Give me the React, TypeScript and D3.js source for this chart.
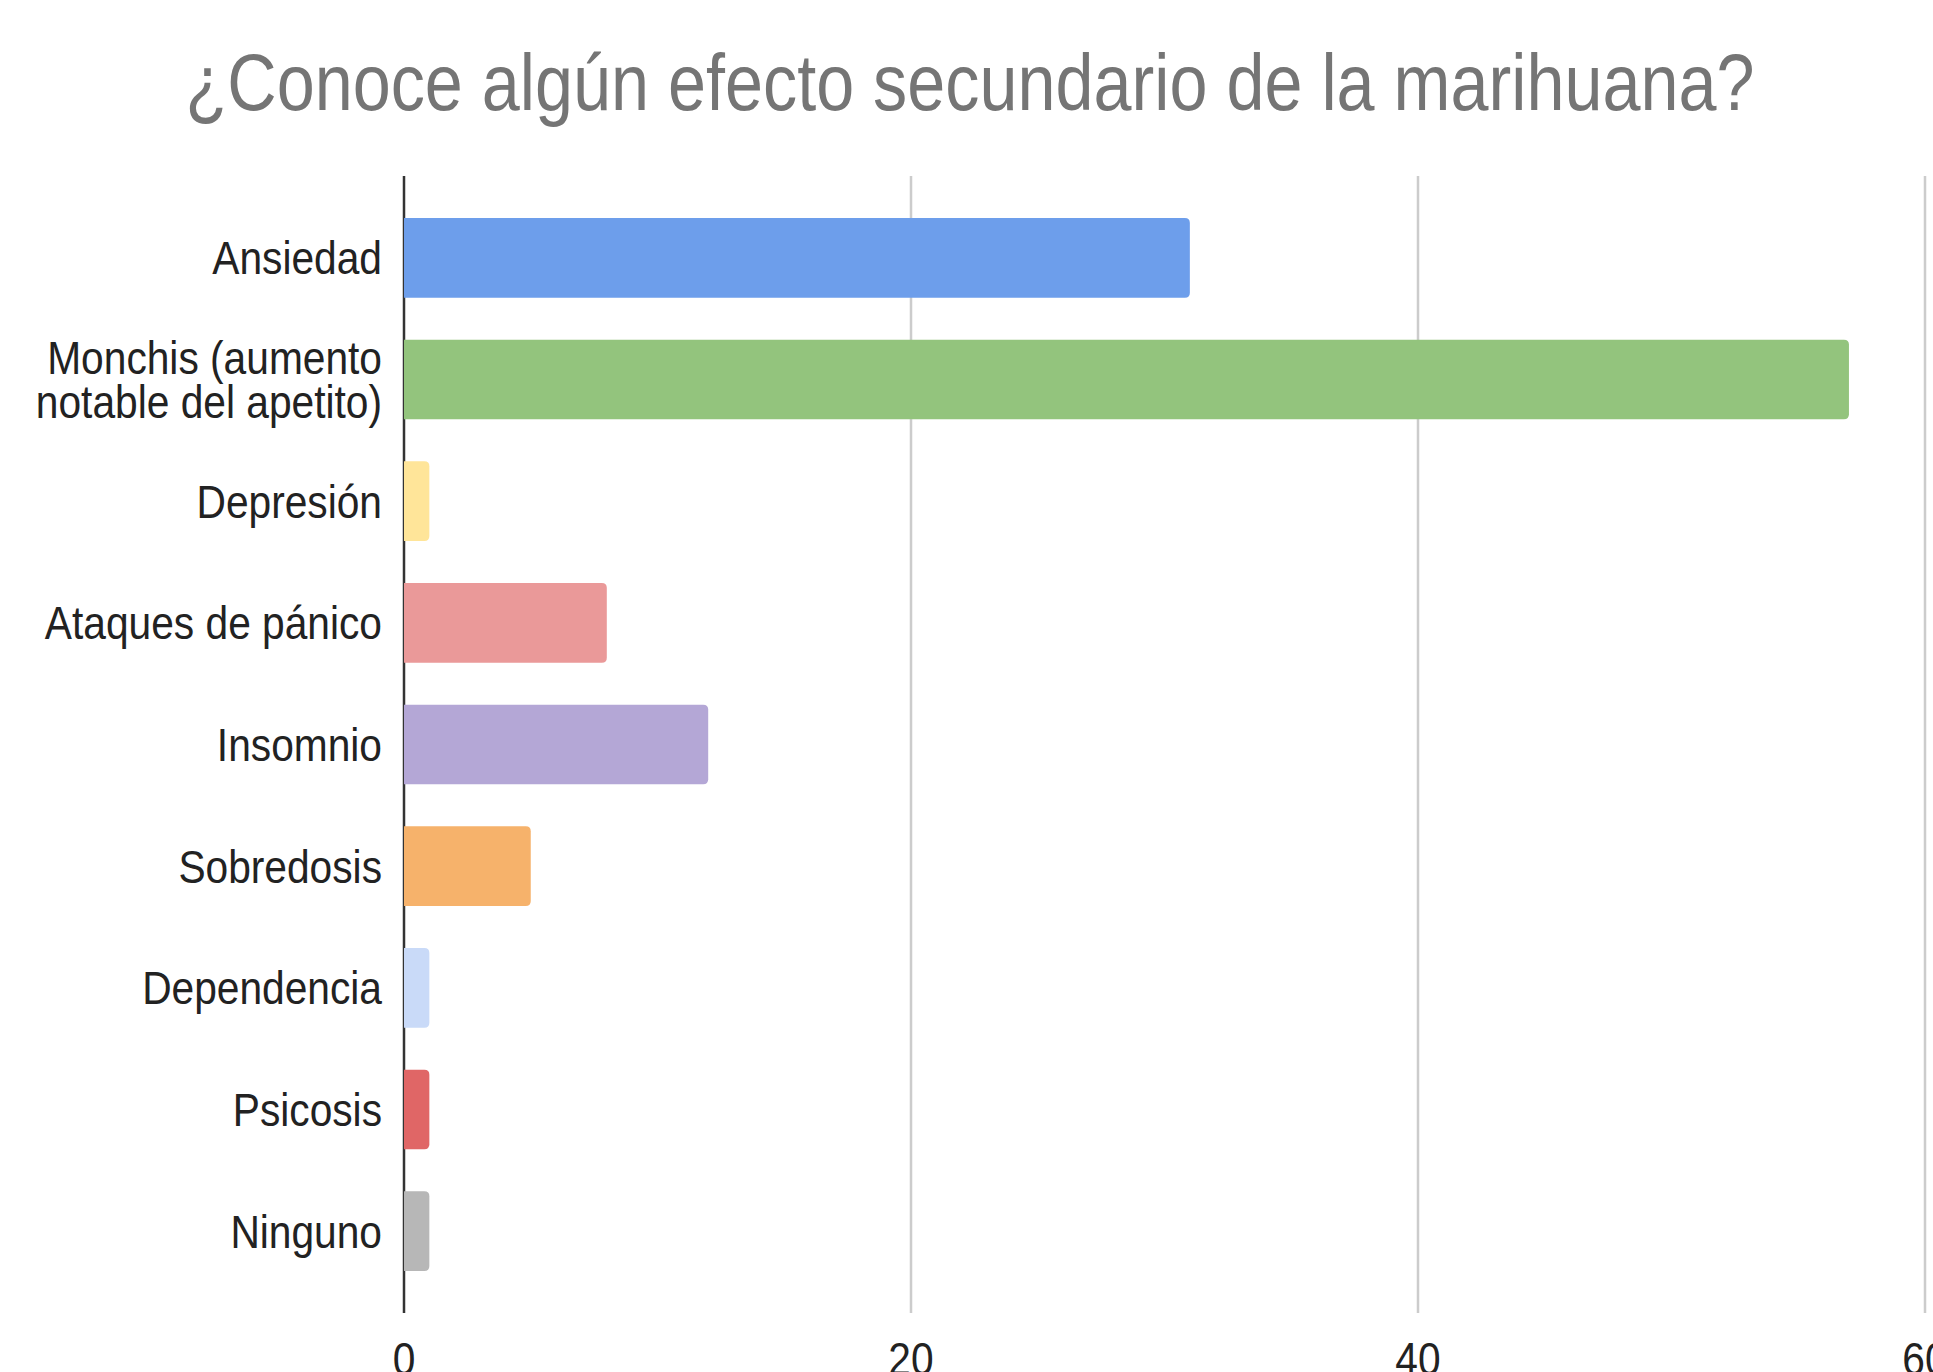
import React from "react";
import * as d3 from "d3";

const categories: string[][] = [
  ["Ansiedad"],
  ["Monchis (aumento", "notable del apetito)"],
  ["Depresión"],
  ["Ataques de pánico"],
  ["Insomnio"],
  ["Sobredosis"],
  ["Dependencia"],
  ["Psicosis"],
  ["Ninguno"],
];
const values: number[] = [31, 57, 1, 8, 12, 5, 1, 1, 1];
const colors: string[] = [
  "#6d9eeb",
  "#93c47d",
  "#ffe599",
  "#ea9999",
  "#b4a7d6",
  "#f6b26b",
  "#c9daf8",
  "#e06666",
  "#b7b7b7",
];
const xTicks: number[] = [0, 20, 40, 60];
const title = "¿Conoce algún efecto secundario de la marihuana?";

const W = 1933;
const H = 1372;
const SX = 0.885;
const FONT = "'Liberation Sans', Arial, sans-serif";

export default function App() {
  const left = 404;
  const x = d3.scaleLinear().domain([0, 60]).range([left, 1925]);
  const keys = categories.map((c) => c.join(" "));
  const y = d3.scaleBand<string>().domain(keys).range([176, 1313]).padding(0.345);
  const bw = y.bandwidth();
  const r = 5;

  const barPath = (v: number, key: string) => {
    const x0 = x(0);
    const x1 = x(v);
    const y0 = y(key) as number;
    const h = bw;
    const rr = Math.min(r, (x1 - x0) / 2);
    const p = d3.path();
    p.moveTo(x0, y0);
    p.lineTo(x1 - rr, y0);
    p.quadraticCurveTo(x1, y0, x1, y0 + rr);
    p.lineTo(x1, y0 + h - rr);
    p.quadraticCurveTo(x1, y0 + h, x1 - rr, y0 + h);
    p.lineTo(x0, y0 + h);
    p.closePath();
    return p.toString();
  };

  const labelSize = 46;
  const lineGap = 44;

  return (
    <div style={{ position: "absolute", left: 0, top: 0 }}>
      <svg width={W} height={H} style={{ display: "block", background: "#fff" }}>
        <rect x={0} y={0} width={W} height={H} fill="#fff" />
        <text
          transform={`translate(970,110) scale(0.865,1)`}
          textAnchor="middle"
          fontFamily={FONT}
          fontSize={79}
          fill="#757575"
        >
          {title}
        </text>
        {xTicks.map((t) =>
          t === 0 ? null : (
            <line
              key={"g" + t}
              x1={x(t)}
              x2={x(t)}
              y1={176}
              y2={1313}
              stroke="#cccccc"
              strokeWidth={2.5}
            />
          )
        )}
        <line x1={x(0)} x2={x(0)} y1={176} y2={1313} stroke="#333" strokeWidth={2.5} />
        {keys.map((k, i) => (
          <path key={"b" + k} d={barPath(values[i], k)} fill={colors[i]} />
        ))}
        {categories.map((lines, i) => {
          const cy = (y(keys[i]) as number) + bw / 2;
          const n = lines.length;
          return lines.map((ln, j) => {
            const by = cy + labelSize * 0.716 / 2 + (j - (n - 1) / 2) * lineGap;
            return (
              <text
                key={"l" + i + "-" + j}
                transform={`translate(382,${by}) scale(${SX},1)`}
                textAnchor="end"
                fontFamily={FONT}
                fontSize={labelSize}
                fill="#222222"
              >
                {ln}
              </text>
            );
          });
        })}
        {xTicks.map((t) => (
          <text
            key={"t" + t}
            transform={`translate(${x(t)},1375) scale(${SX},1)`}
            textAnchor="middle"
            fontFamily={FONT}
            fontSize={labelSize}
            fill="#222222"
          >
            {t}
          </text>
        ))}
      </svg>
    </div>
  );
}
